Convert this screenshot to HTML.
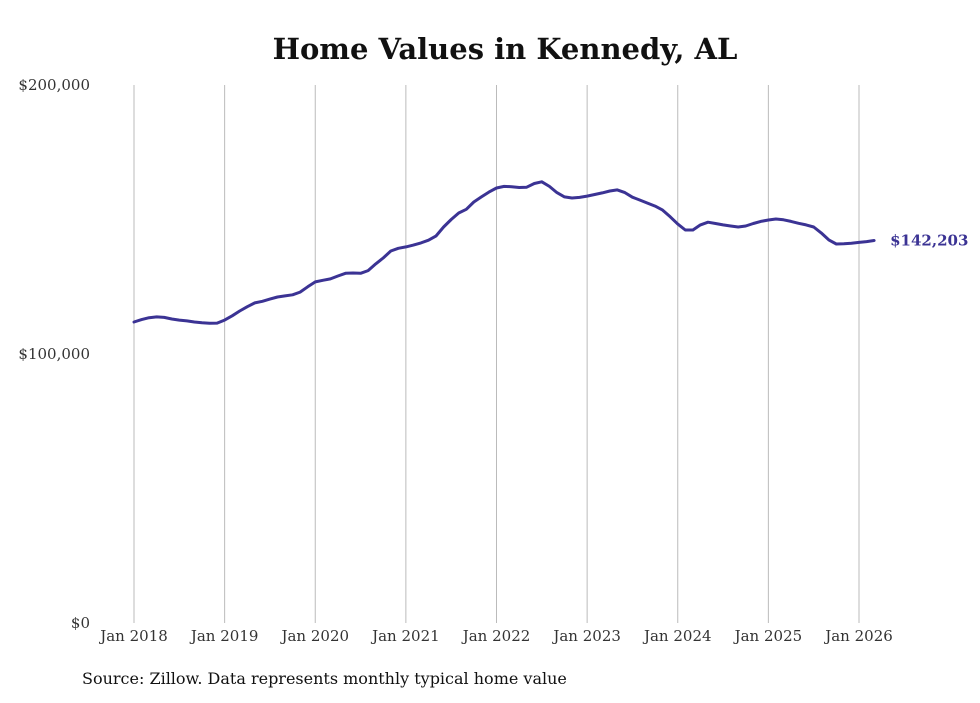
<!DOCTYPE html>
<html><head><meta charset="utf-8">
<style>
html,body{margin:0;padding:0;background:#fff;}
body{width:980px;height:699px;overflow:hidden;font-family:"DejaVu Serif","Liberation Serif",serif;}
</style></head>
<body>
<svg id="chart" width="980" height="699" viewBox="0 0 980 699" xmlns="http://www.w3.org/2000/svg">
<text x="505" y="59" text-anchor="middle" font-family="DejaVu Serif, Liberation Serif, serif" font-weight="bold" font-size="29" fill="#111">Home Values in Kennedy, AL</text>
<g id="grid"></g>
<g id="yaxis"></g>
<g id="xaxis"></g>
<g id="series"></g>
<text x="82" y="684" font-family="DejaVu Serif, Liberation Serif, serif" font-size="16" fill="#111">Source: Zillow. Data represents monthly typical home value</text>
</svg>
<script>
const xTickLabels = ["Jan 2018","Jan 2019","Jan 2020","Jan 2021","Jan 2022","Jan 2023","Jan 2024","Jan 2025","Jan 2026"];
const yTickValues = [0,100000,200000];
const yTickLabels = ["$0","$100,000","$200,000"];
const values2018 = [111.9,112.8,113.5,113.8,113.6,113.0,112.6,112.3,111.9,111.6,111.4,111.5];
const values2019 = [112.6,114.2,116.0,117.6,119.0,119.6,120.4,121.2,121.6,122.0,123.0,125.0];
const values2020 = [126.8,127.4,127.9,129.0,130.0,130.1,130.0,131.0,133.5,135.7,138.3,139.3];
const values2021 = [139.8,140.5,141.3,142.3,143.9,147.2,150.0,152.4,153.8,156.5,158.4,160.2];
const values2022 = [161.7,162.3,162.2,161.9,162.0,163.4,164.0,162.3,160.0,158.4,158.0,158.2];
const values2023 = [158.7,159.3,159.9,160.6,161.0,160.0,158.3,157.2,156.1,155.0,153.5,151.0];
const values2024 = [148.3,146.1,146.1,148.0,149.0,148.5,148.0,147.6,147.2,147.6,148.5,149.3];
const values2025 = [149.8,150.2,149.9,149.3,148.6,148.0,147.2,145.0,142.4,140.9,141.0,141.2];
const values2026 = [141.5,141.8,142.203];
const lastLabel = "$142,203";

const series = [].concat(values2018,values2019,values2020,values2021,values2022,values2023,values2024,values2025,values2026).map(v=>v*1000);
const NS="http://www.w3.org/2000/svg";
const x = m => 134 + m*(859-134)/96;
const y = v => 623 - v*(623-85)/200000;
function mk(tag, attrs, parent){const e=document.createElementNS(NS,tag);for(const k in attrs)e.setAttribute(k,attrs[k]);document.getElementById(parent).appendChild(e);return e;}

xTickLabels.forEach((lab,i)=>{
  const gx = x(i*12);
  const l = mk('line',{x1:gx,x2:gx,y1:85,y2:623,stroke:'#bbb','stroke-width':1},'grid');
  
  
  const t = mk('text',{x:gx,y:641,'text-anchor':'middle','font-size':15,fill:'#333'},'xaxis');
  t.textContent = lab;
  
  
});
yTickValues.forEach((v,i)=>{
  const t = mk('text',{x:90,y:y(v)+5,'text-anchor':'end','font-size':15,fill:'#333'},'yaxis');
  t.textContent = yTickLabels[i];
  
  
});
const d = series.map((v,i)=>(i?'L':'M')+x(i).toFixed(1)+','+y(v).toFixed(1)).join(' ');
const p = mk('path',{d:d,fill:'none',stroke:'#3b3394','stroke-width':3,'stroke-linejoin':'round','stroke-linecap':'round'},'series');


const li = series.length-1;
const lt = mk('text',{x:x(li)+16,y:y(series[li])+5,'font-size':15,'font-weight':'bold',fill:'#3b3394'},'series');
lt.textContent = lastLabel;


</script>
</body></html>
